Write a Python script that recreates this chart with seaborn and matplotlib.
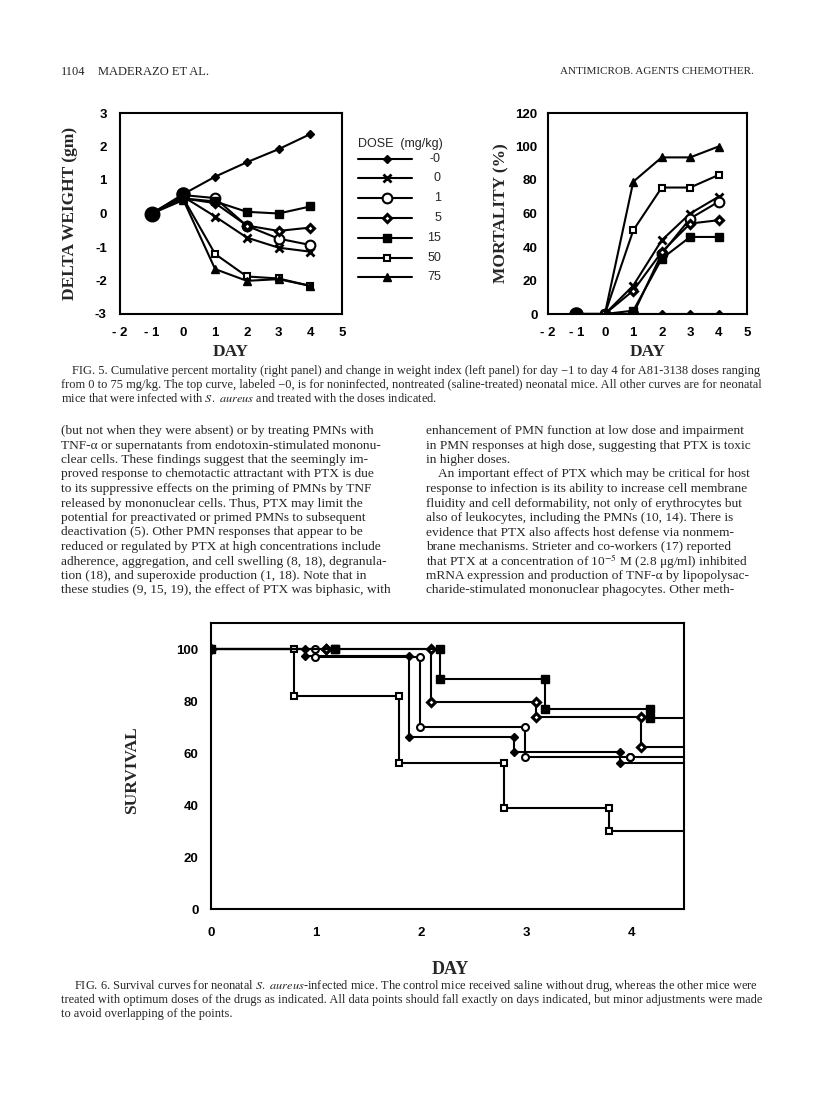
import numpy as np
import pandas as pd
import seaborn as sns
import matplotlib
matplotlib.use('Agg')
import matplotlib.pyplot as plt

W, H = 816, 1093
SERIF = 'Liberation Serif'
SANS = 'Liberation Sans'

# ---- Fig 5 data ----
days = [-1, 0, 1, 2, 3, 4]
day_ticklabels = ['- 2', '- 1', '0', '1', '2', '3', '4', '5']
dose_labels = ['-0', '0', '1', '5', '15', '50', '75']

weight_neg0 = [0, 0.58, 1.10, 1.53, 1.92, 2.37]
weight_0 = [0, 0.50, -0.09, -0.72, -1.02, -1.14]
weight_1 = [0, 0.55, 0.46, -0.37, -0.75, -0.94]
weight_5 = [0, 0.45, 0.31, -0.36, -0.52, -0.42]
weight_15 = [0, 0.45, 0.36, 0.05, 0.00, 0.21]
weight_50 = [0, 0.45, -1.21, -1.88, -1.94, -2.16]
weight_75 = [0, 0.40, -1.66, -2.01, -1.96, -2.16]

mort_neg0 = [0, 0, 0, 0, 0, 0]
mort_0 = [0, 0, 17, 44, 60, 70]
mort_1 = [0, 0, 0, 36, 57, 67]
mort_5 = [0, 0, 14, 37, 54, 56]
mort_15 = [0, 0, 2, 33, 46, 46]
mort_50 = [0, 0, 50, 75.5, 75.5, 83]
mort_75 = [0, 0, 79, 93.5, 93.5, 100]

# ---- Fig 6 data: day of each drop, survival level before/after ----
surv_names = ['CONTROL', 'HWA-285', 'A81-3138', 'HWA-448', 'PTX']
surv_doses = ['', '25 mg/kg', '15 mg/kg', '15 mg/kg', '15 mg/kg']
control_days = [0.79, 1.79, 2.79, 3.79]
control_surv = [100, 82, 56, 39, 30]
hwa285_days = [0.89, 1.88, 2.88, 3.89]
hwa285_surv = [100, 97.5, 66, 60.5, 56]
a81_days = [0.99, 1.99, 2.99, 3.99]
a81_surv = [100, 97, 70, 58.3, 58.3]
hwa448_days = [1.09, 2.09, 3.09, 4.09]
hwa448_surv = [100, 100, 79.7, 73.7, 62.4]
ptx_days = [1.18, 2.18, 3.18, 4.18]
ptx_surv = [100, 100, 88.5, 76.9, 73.6]

weights = [weight_neg0, weight_0, weight_1, weight_5, weight_15, weight_50, weight_75]
morts = [mort_neg0, mort_0, mort_1, mort_5, mort_15, mort_50, mort_75]

# marker, size, face, edge width
dose_style = [('D', 4.5, 'black', 1.0), ('x', 5.5, 'black', 2.0), ('o', 7, 'white', 1.5),
              ('D', 4.5, 'white', 2.2), ('s', 5.5, 'black', 1.0), ('s', 5, 'white', 1.5),
              ('^', 6, 'black', 1.0)]
surv_style = [('s', 5, 'white', 1.5), ('D', 4.5, 'black', 1.0), ('o', 5, 'white', 1.5),
              ('D', 4.5, 'white', 2.2), ('s', 6, 'black', 1.0)]

sns.set_theme(style='white')
plt.rcParams['font.family'] = [SANS, 'DejaVu Sans']
plt.rcParams['mathtext.fontset'] = 'stix'
plt.rcParams['axes.edgecolor'] = 'black'

fig = plt.figure(figsize=(W / 100, H / 100), dpi=100)
fig.patch.set_facecolor('white')


def px_axes(x0, y0, x1, y1):
    return fig.add_axes([x0 / W, 1 - y1 / H, (x1 - x0) / W, (y1 - y0) / H])


def style_axes(ax, lw=1.5):
    for sp in ax.spines.values():
        sp.set_visible(True)
        sp.set_linewidth(lw)
        sp.set_color('black')
    ax.set_facecolor('white')
    for lab in ax.get_xticklabels() + ax.get_yticklabels():
        lab.set_fontfamily(SANS)
        lab.set_fontweight('bold')


def draw_series(ax, x, y, st, markevery=None):
    m, ms, fc, mew = st
    sns.lineplot(x=x, y=y, ax=ax, color='black', lw=1.5, marker=m, markersize=ms,
                 markerfacecolor=fc, markeredgecolor='black', markeredgewidth=mew,
                 markevery=markevery, estimator=None, sort=False, zorder=3)


# ---- Fig 5 left: weight ----
axw = px_axes(120, 113, 342, 314)
for vals, st in zip(weights, dose_style):
    draw_series(axw, days, vals, st, markevery=list(range(1, len(days))))
axw.scatter([days[0]], [weight_neg0[0]], s=110, color='black', zorder=4)
axw.scatter([days[1]], [max(w[1] for w in weights)], s=90, color='black', zorder=4)
axw.set_xlim(-2, 5)
axw.set_ylim(-3, 3)
axw.set_xticks(range(-2, 6))
axw.set_xticklabels(day_ticklabels, fontsize=9.5)
axw.set_xticks(np.arange(-2, 5.01, 0.5), minor=True)
axw.set_yticks(range(-3, 4))
axw.set_yticklabels([str(v) for v in range(-3, 4)], fontsize=9.5)
axw.set_yticks(np.arange(-3, 3.01, 0.5), minor=True)
axw.tick_params(which='major', direction='inout', length=7, width=1.4, colors='black')
axw.tick_params(which='minor', direction='in', length=3, width=1.1, colors='black')
axw.tick_params(axis='y', which='major', pad=6)
axw.tick_params(axis='x', which='major', pad=6)
axw.set_ylabel('DELTA WEIGHT (gm)', fontfamily=SERIF, fontweight='bold', fontsize=12.5, va='center')
axw.yaxis.set_label_coords(-0.225, 0.5)
axw.set_xlabel('DAY', fontfamily=SERIF, fontweight='bold', fontsize=12.5, va='center')
axw.xaxis.set_label_coords(0.5, -0.19)
style_axes(axw)

# ---- Fig 5 right: mortality ----
axm = px_axes(548, 113, 747, 314)
for vals, st in zip(morts, dose_style):
    draw_series(axm, days, vals, st, markevery=list(range(1, len(days))))
axm.scatter([days[0]], [mort_neg0[0]], s=90, color='black', zorder=4)
axm.set_xlim(-2, 5)
axm.set_ylim(0, 120)
axm.set_xticks(range(-2, 6))
axm.set_xticklabels(day_ticklabels, fontsize=9.5)
axm.set_xticks(np.arange(-2, 5.01, 0.5), minor=True)
axm.set_yticks(range(0, 121, 20))
axm.set_yticklabels([str(v) for v in range(0, 121, 20)], fontsize=9.5)
axm.set_yticks(range(0, 121, 10), minor=True)
axm.tick_params(which='major', direction='inout', length=7, width=1.4, colors='black', pad=4)
axm.tick_params(which='minor', direction='in', length=3, width=1.1, colors='black')
axm.tick_params(axis='x', which='major', pad=6)
axm.set_ylabel('MORTALITY (%)', fontfamily=SERIF, fontweight='bold', fontsize=12.5, va='center')
axm.yaxis.set_label_coords(-0.236, 0.5)
axm.set_xlabel('DAY', fontfamily=SERIF, fontweight='bold', fontsize=12.5, va='center')
axm.xaxis.set_label_coords(0.5, -0.19)
style_axes(axm)

# ---- Fig 6: survival ----
axs = px_axes(211, 623, 684, 909)
surv_data = [(control_days, control_surv), (hwa285_days, hwa285_surv), (a81_days, a81_surv),
             (hwa448_days, hwa448_surv), (ptx_days, ptx_surv)]
for (drop_days, levels), st in zip(surv_data, surv_style):
    xs, ys = [0], [levels[0]]
    for d, a, b in zip(drop_days, levels[:-1], levels[1:]):
        xs += [d, d]
        ys += [a, b]
    xs.append(4.5)
    ys.append(levels[-1])
    draw_series(axs, xs, ys, st, markevery=list(range(0, len(xs) - 1)))
axs.set_xlim(0, 4.5)
axs.set_ylim(0, 110)
axs.set_xticks(range(0, 5))
axs.set_xticklabels([str(v) for v in range(0, 5)], fontsize=9.5)
axs.set_yticks(range(0, 101, 20))
axs.set_yticklabels([str(v) for v in range(0, 101, 20)], fontsize=9.5)
axs.set_yticks(range(10, 100, 20), minor=True)
axs.tick_params(which='major', direction='out', length=5, width=1.4, colors='black', pad=4)
axs.tick_params(which='minor', direction='out', length=4, width=1.1, colors='black')
axs.tick_params(axis='x', which='major', pad=8)
axs.set_ylabel('SURVIVAL', fontfamily=SERIF, fontweight='bold', fontsize=12.5, va='center')
axs.yaxis.set_label_coords(-0.167, 0.486)
axs.set_xlabel('DAY', fontfamily=SERIF, fontweight='bold', fontsize=13, va='center')
axs.xaxis.set_label_coords(0.507, -0.213)
style_axes(axs)

# ---- page overlay: legends, header, captions, body text ----
pg = fig.add_axes([0, 0, 1, 1], zorder=-1)
pg.set_xlim(0, W)
pg.set_ylim(H, 0)
pg.axis('off')

# Fig 5 dose legend
pg.text(358, 144, 'DOSE  (mg/kg)', fontsize=9, va='center', ha='left', fontfamily=SANS)
for yy, lab, st in zip([159, 178, 198, 218, 238, 258, 277], dose_labels, dose_style):
    m, ms, fc, mew = st
    pg.plot([358, 412], [yy, yy], color='black', lw=1.5)
    pg.plot([387], [yy], marker=m, ms=ms, mfc=fc, mec='black', mew=mew, color='black')
    pg.text(441, yy, lab, fontsize=9, va='center', ha='right', fontfamily=SANS)

# Fig 6 legend
for yy, name, dose, st in zip([762, 793, 820, 849, 878], surv_names, surv_doses, surv_style):
    m, ms, fc, mew = st
    pg.plot([226, 266], [yy, yy], color='black', lw=1.5)
    pg.plot([248], [yy], marker=m, ms=ms, mfc=fc, mec='black', mew=mew, color='black')
    pg.text(279, yy, name, fontsize=9.5, va='center', ha='left', fontfamily=SERIF)
    if dose:
        pg.text(330, yy, dose, fontsize=9.5, va='center', ha='left', fontfamily=SERIF)

# header
pg.text(61, 72, '1104', fontsize=9, va='center', fontfamily=SERIF)
pg.text(98, 72, 'MADERAZO ET AL.', fontsize=9, va='center', fontfamily=SERIF)
pg.text(754, 72, 'ANTIMICROB. AGENTS CHEMOTHER.', fontsize=8, va='center', ha='right',
        fontfamily=SERIF)

cap5 = [
    'FIG. 5. Cumulative percent mortality (right panel) and change in weight index (left panel) for day \u22121 to day 4 for A81-3138 doses ranging',
    'from 0 to 75 mg/kg. The top curve, labeled \u22120, is for noninfected, nontreated (saline-treated) neonatal mice. All other curves are for neonatal',
    r'mice that were infected with $\mathit{S.\ aureus}$ and treated with the doses indicated.',
]
cap6 = [
    r'FIG. 6. Survival curves for neonatal $\mathit{S.\ aureus}$-infected mice. The control mice received saline without drug, whereas the other mice were',
    'treated with optimum doses of the drugs as indicated. All data points should fall exactly on days indicated, but minor adjustments were made',
    'to avoid overlapping of the points.',
]
for i, line in enumerate(cap5):
    pg.text(72 if i == 0 else 61, 371 + 14 * i, line, fontsize=8.9, va='center', fontfamily=SERIF)
for i, line in enumerate(cap6):
    pg.text(74 if i == 0 else 61, 986 + 14 * i, line, fontsize=8.9, va='center', fontfamily=SERIF)

left_col = [
    '(but not when they were absent) or by treating PMNs with',
    'TNF-\u03b1 or supernatants from endotoxin-stimulated mononu-',
    'clear cells. These findings suggest that the seemingly im-',
    'proved response to chemotactic attractant with PTX is due',
    'to its suppressive effects on the priming of PMNs by TNF',
    'released by mononuclear cells. Thus, PTX may limit the',
    'potential for preactivated or primed PMNs to subsequent',
    'deactivation (5). Other PMN responses that appear to be',
    'reduced or regulated by PTX at high concentrations include',
    'adherence, aggregation, and cell swelling (8, 18), degranula-',
    'tion (18), and superoxide production (1, 18). Note that in',
    'these studies (9, 15, 19), the effect of PTX was biphasic, with',
]
right_col = [
    'enhancement of PMN function at low dose and impairment',
    'in PMN responses at high dose, suggesting that PTX is toxic',
    'in higher doses.',
    'An important effect of PTX which may be critical for host',
    'response to infection is its ability to increase cell membrane',
    'fluidity and cell deformability, not only of erythrocytes but',
    'also of leukocytes, including the PMNs (10, 14). There is',
    'evidence that PTX also affects host defense via nonmem-',
    'brane mechanisms. Strieter and co-workers (17) reported',
    'that PTX at a concentration of 10$^{-5}$ M (2.8 \u03bcg/ml) inhibited',
    'mRNA expression and production of TNF-\u03b1 by lipopolysac-',
    'charide-stimulated mononuclear phagocytes. Other meth-',
]
for i, line in enumerate(left_col):
    pg.text(61, 431 + 14.5 * i, line, fontsize=9.6, va='center', fontfamily=SERIF)
for i, line in enumerate(right_col):
    x0 = 438 if i == 3 else 426
    pg.text(x0, 431 + 14.5 * i, line, fontsize=9.6, va='center', fontfamily=SERIF)

fig.savefig('out.png', dpi=100, facecolor='white')
